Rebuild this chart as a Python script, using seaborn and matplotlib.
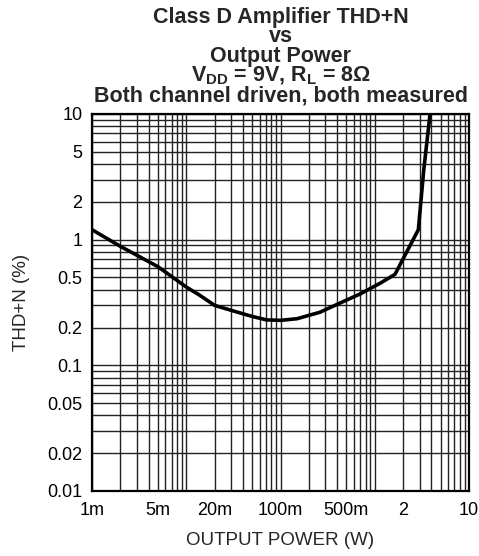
import numpy as np
import pandas as pd
import seaborn as sns
import matplotlib
matplotlib.use("Agg")
import matplotlib.pyplot as plt
from matplotlib.ticker import FixedLocator, FixedFormatter, LogLocator, NullFormatter

# ---- data ----
power_w = [0.001, 0.002, 0.005, 0.01, 0.014, 0.02, 0.032, 0.05, 0.071, 0.1,
           0.15, 0.26, 0.5, 0.7, 1.14, 1.64, 2.9, 3.3, 3.86]
thd_pct = [1.2, 0.885, 0.61, 0.42, 0.36, 0.30, 0.27, 0.245, 0.23, 0.228,
           0.235, 0.264, 0.33, 0.37, 0.45, 0.53, 1.2, 3.5, 10.0]

x_ticks = [0.001, 0.005, 0.02, 0.1, 0.5, 2, 10]
x_tick_labels = ["1m", "5m", "20m", "100m", "500m", "2", "10"]
y_ticks = [0.01, 0.02, 0.05, 0.1, 0.2, 0.5, 1, 2, 5, 10]
y_tick_labels = ["0.01", "0.02", "0.05", "0.1", "0.2", "0.5", "1", "2", "5", "10"]

title_lines = ["Class D Amplifier THD+N", "vs", "Output Power",
               r"V$_{DD}$ = 9V, R$_{L}$ = 8Ω",
               "Both channel driven, both measured"]

df = pd.DataFrame({"P": power_w, "THD": thd_pct})

sns.set_style("white")
plt.rcParams["font.family"] = ["Liberation Sans", "DejaVu Sans"]
plt.rcParams["mathtext.fontset"] = "custom"
plt.rcParams["mathtext.rm"] = "Liberation Sans:bold"
plt.rcParams["mathtext.it"] = "Liberation Sans:bold"
plt.rcParams["mathtext.bf"] = "Liberation Sans:bold"

W, H = 479, 556
fig = plt.figure(figsize=(W / 100, H / 100), dpi=100)
ax = fig.add_axes([92 / W, 1 - 491 / H, 377 / W, 377 / H])

sns.lineplot(data=df, x="P", y="THD", ax=ax, color="black", linewidth=2.6,
             sort=False, estimator=None, zorder=5)

ax.set_xscale("log")
ax.set_yscale("log")
ax.set_xlim(0.001, 10)
ax.set_ylim(0.01, 10)

ax.xaxis.set_major_locator(FixedLocator(x_ticks))
ax.xaxis.set_major_formatter(FixedFormatter(x_tick_labels))
ax.yaxis.set_major_locator(FixedLocator(y_ticks))
ax.yaxis.set_major_formatter(FixedFormatter(y_tick_labels))
ax.xaxis.set_minor_locator(LogLocator(base=10, subs=np.arange(1, 10), numticks=50))
ax.yaxis.set_minor_locator(LogLocator(base=10, subs=np.arange(1, 10), numticks=50))
ax.xaxis.set_minor_formatter(NullFormatter())
ax.yaxis.set_minor_formatter(NullFormatter())

ax.grid(True, which="both", color="#222222", linewidth=1.0)
ax.set_axisbelow(True)
ax.tick_params(which="both", length=0, labelsize=13, colors="black")
ax.tick_params(axis="x", pad=8)
ax.tick_params(axis="y", pad=7)
for s in ax.spines.values():
    s.set_color("black")
    s.set_linewidth(1.6)

ax.set_xlabel("OUTPUT POWER (W)", fontsize=13.5, labelpad=9)
ax.set_ylabel("THD+N (%)", fontsize=13.5, labelpad=12)

cx = (92 + 469) / 2 / W
fig.text(cx, 1 - 106.5 / H, "\n".join(title_lines), ha="center", va="bottom",
         multialignment="center", fontsize=15.5, fontweight="bold",
         linespacing=0.9)

fig.savefig("out.png", dpi=100)
